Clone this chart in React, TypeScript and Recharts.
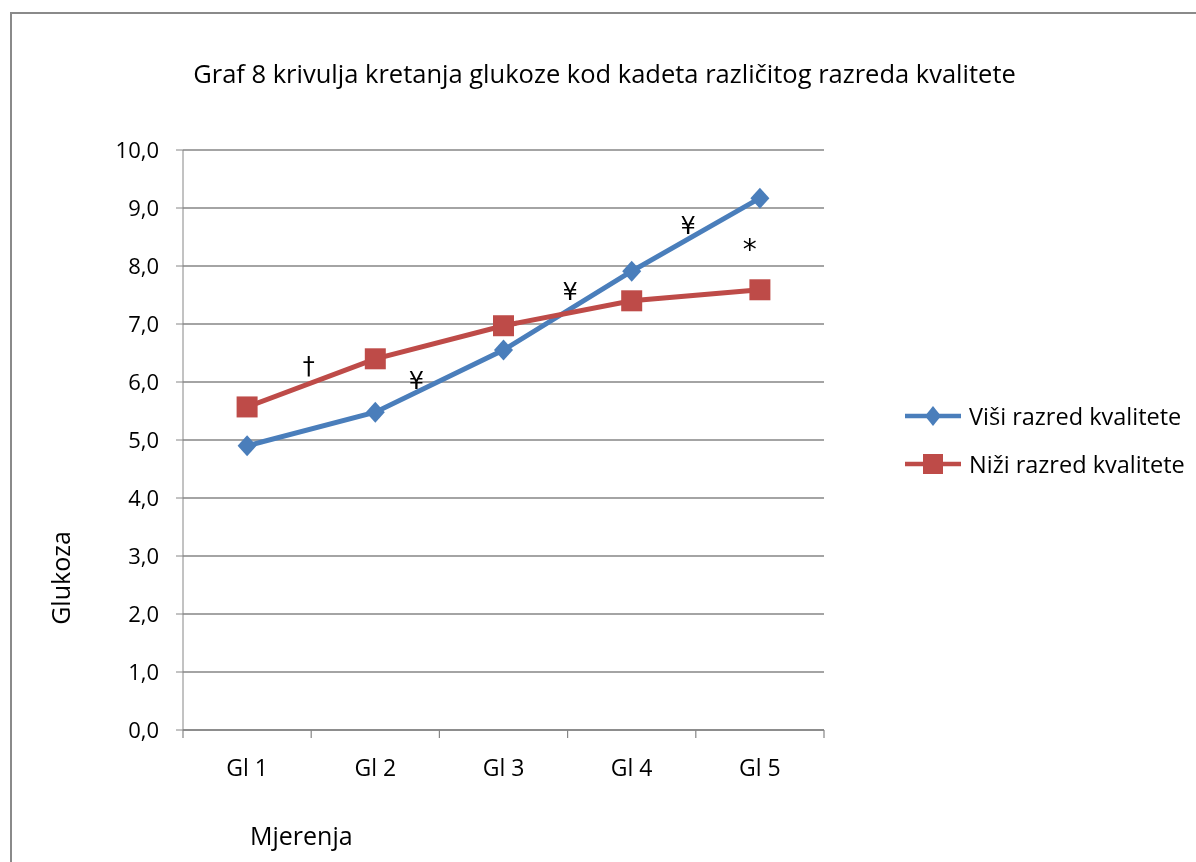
import React from 'react';
import { LineChart, Line, XAxis, YAxis, CartesianGrid, ReferenceDot } from 'recharts';

const categories = ['Gl 1', 'Gl 2', 'Gl 3', 'Gl 4', 'Gl 5'];
const visiValues = [4.9, 5.48, 6.55, 7.91, 9.17];
const niziValues = [5.57, 6.4, 6.97, 7.4, 7.59];
const yTicks = [0, 1, 2, 3, 4, 5, 6, 7, 8, 9, 10];
const xTicks = [0.5, 1, 1.5, 2, 2.5, 3, 3.5, 4, 4.5, 5, 5.5];
const annotationX = [1.48, 2.32, 3.52, 4.44, 4.92];
const annotationY = [6.28, 6.02, 7.55, 8.69, 8.28];
const annotationText = ['†', '¥', '¥', '¥', '*'];

const seriesNames = ['Viši razred kvalitete', 'Niži razred kvalitete'];
const BLUE = '#4A7EBB';
const RED = '#BE4B48';
const GRID = '#868686';
const FONT = '"Open Sans", sans-serif';

const data = categories.map((c, i) => ({ cat: c, idx: i + 1, visi: visiValues[i], nizi: niziValues[i] }));

const Diamond = (props: any) => {
  const { cx, cy, index } = props;
  if (cx == null || cy == null) return null;
  return <path key={'d' + index} d={`M${cx},${cy - 10.5} L${cx + 9.5},${cy} L${cx},${cy + 10.5} L${cx - 9.5},${cy} Z`} fill={BLUE} />;
};
const Square = (props: any) => {
  const { cx, cy, index } = props;
  if (cx == null || cy == null) return null;
  return <rect key={'s' + index} x={cx - 10.5} y={cy - 10.5} width={21} height={21} fill={RED} />;
};

const XTick = (props: any) => {
  const { x, y, payload } = props;
  const v = payload.value as number;
  if (Math.abs(v - Math.round(v)) > 0.01) {
    return <line x1={x} y1={y} x2={x} y2={y + 8} stroke={GRID} strokeWidth={1.2} />;
  }
  return (
    <text x={x} y={y + 46} textAnchor="middle" fontSize={23} fontFamily={FONT} fill="#000">
      {categories[Math.round(v) - 1] ?? ''}
    </text>
  );
};

export default function App() {
  return (
    <div style={{ position: 'relative', width: 1180, height: 846, fontFamily: FONT }}>
      <div style={{ position: 'fixed', left: 10, top: 12, right: -10, bottom: -10, borderLeft: '2px solid #8a8a8a', borderTop: '2px solid #8a8a8a', pointerEvents: 'none' }} />
      <div style={{ position: 'absolute', left: 0, top: 48, width: 1193, textAlign: 'center', fontSize: 25.5, color: '#000', whiteSpace: 'nowrap' }}>
        Graf 8 krivulja kretanja glukoze kod kadeta različitog razreda kvalitete
      </div>
      <LineChart width={1180} height={846} data={data} margin={{ top: 142, right: 364, left: 95, bottom: 84 }}>
        <CartesianGrid vertical={false} stroke={GRID} strokeWidth={1.3} />
        <XAxis xAxisId="num" type="number" dataKey="idx" domain={[0.5, 5.5]} ticks={xTicks} interval={0} tick={XTick} axisLine={{ stroke: GRID, strokeWidth: 1.3 }} tickLine={false} tickSize={0} tickMargin={0} height={40} allowDataOverflow />
        <YAxis domain={[0, 10]} ticks={yTicks} interval={0} width={80} axisLine={{ stroke: GRID }} tickLine={{ stroke: GRID }} tickSize={7} tickMargin={17}
          tick={{ fill: '#000', fontSize: 22, fontFamily: FONT }} tickFormatter={(v: number) => v.toFixed(1).replace('.', ',')} />
        <Line xAxisId="num" type="linear" dataKey="visi" name={seriesNames[0]} stroke={BLUE} strokeWidth={5} dot={Diamond} activeDot={false} isAnimationActive={false} />
        <Line xAxisId="num" type="linear" dataKey="nizi" name={seriesNames[1]} stroke={RED} strokeWidth={5} dot={Square} activeDot={false} isAnimationActive={false} />
        {annotationText.map((t, i) => (
          <ReferenceDot key={i} xAxisId="num" x={annotationX[i]} y={annotationY[i]} r={0}
            shape={(p: any) => (
              <text x={p.cx} y={p.cy} textAnchor="middle" dominantBaseline="central" fontSize={t === '*' ? 28 : 24} fontFamily="DejaVu Sans, sans-serif" fill="#000">{t}</text>
            )} />
        ))}
      </LineChart>
      <div style={{ position: 'absolute', left: 52, top: 570, transform: 'translate(-50%, -50%) rotate(-90deg)', fontSize: 25, whiteSpace: 'nowrap' }}>Glukoza</div>
      <div style={{ position: 'absolute', left: 242, top: 810, fontSize: 25, whiteSpace: 'nowrap' }}>Mjerenja</div>
      {seriesNames.map((n, i) => (
        <div key={n} style={{ position: 'absolute', left: 895, top: 388 + i * 48, height: 40, display: 'flex', alignItems: 'center', whiteSpace: 'nowrap', fontSize: 23.5 }}>
          <svg width={62} height={24} style={{ marginRight: 4 }}>
            <line x1={2} y1={12} x2={58} y2={12} stroke={i === 0 ? BLUE : RED} strokeWidth={4.5} />
            {i === 0
              ? <path d="M30,2 L38,12 L30,22 L22,12 Z" fill={BLUE} />
              : <rect x={20} y={2} width={20} height={20} fill={RED} />}
          </svg>
          <span>{n}</span>
        </div>
      ))}
    </div>
  );
}
